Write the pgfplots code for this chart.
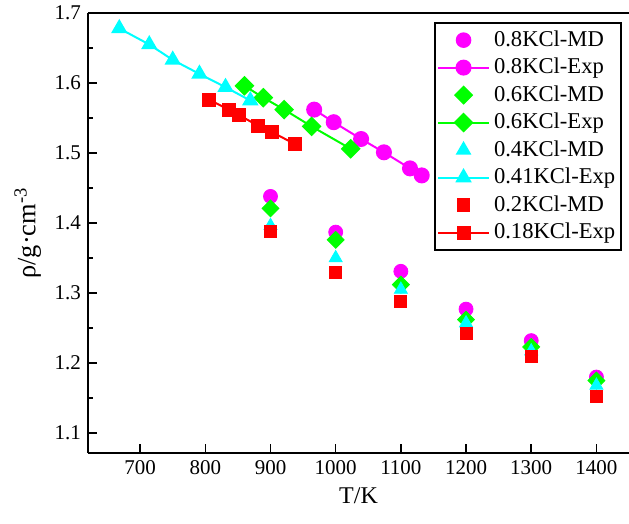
\documentclass[border=0pt]{standalone}
\usepackage{fontspec}
\setmainfont{Liberation Serif}
\usepackage{pgfplots}
\pgfplotsset{compat=1.18}
\definecolor{cmag}{RGB}{255,0,255}
\definecolor{cgreen}{RGB}{0,255,0}
\definecolor{ccyan}{RGB}{0,255,255}
\definecolor{cred}{RGB}{255,0,0}
\begin{document}
\begin{tikzpicture}
\begin{axis}[
  scale only axis, width=270.5pt, height=220pt,
  xmin=620, xmax=1450, ymin=1.0715, ymax=1.7,
  axis x line*=box, axis y line*=left,
  xtick={700,800,...,1400}, ytick={1.1,1.2,...,1.7},
  minor ytick={1.15,1.25,...,1.65},
  xtick pos=bottom, ytick pos=left,
  tick align=inside,
  major tick length=4.5pt, minor tick length=2.5pt,
  every tick/.style={black, line width=0.75pt},
  axis line style={black, line width=1pt},
  yticklabel style={/pgf/number format/.cd, fixed, fixed zerofill, precision=1},
  xticklabel style={/pgf/number format/.cd, set thousands separator={}},
  /pgf/number format/assume math mode=true,
  ticklabel style={font=\fontsize{10.5}{12}\selectfont},
  xlabel={T/K}, ylabel={ρ/g·cm\textsuperscript{-3}},
  xlabel style={font=\fontsize{12}{14}\selectfont},
  ylabel style={font=\fontsize{13.2}{15}\selectfont},
  legend style={at={(1,1)}, anchor=north east, xshift=-3.5pt, yshift=-4.5pt,
    draw=black, line width=0.8pt, font=\fontsize{11.3}{13}\selectfont, row sep=0.4pt,
    inner xsep=1pt},
  legend cell align=left,
  legend image code/.code={\draw[mark repeat=2,mark phase=2,#1] plot coordinates {(0pt,0pt) (12.75pt,0pt) (25.5pt,0pt)};},
]
\addplot[only marks, mark=*, color=cmag, mark size=3.5pt] coordinates {(900,1.438)(1000,1.387)(1100,1.331)(1200,1.277)(1300,1.232)(1400,1.180)};
\addlegendentry{0.8KCl-MD}
\addplot[color=cmag, mark=*, mark size=3.5pt, line width=1pt] coordinates {(967,1.562)(997,1.544)(1039,1.520)(1074,1.501)(1114,1.478)(1132,1.468)};
\addlegendentry{0.8KCl-Exp}
\addplot[only marks, mark=square*, mark options={rotate=45}, color=cgreen, mark size=3pt] coordinates {(900,1.421)(1000,1.376)(1100,1.312)(1200,1.262)(1300,1.223)(1400,1.175)};
\addlegendentry{0.6KCl-MD}
\addplot[color=cgreen, mark=square*, mark options={rotate=45}, mark size=3pt, line width=1pt] coordinates {(860,1.596)(889,1.579)(921,1.562)(963,1.538)(1023,1.506)};
\addlegendentry{0.6KCl-Exp}
\addplot[only marks, mark=triangle*, color=ccyan, mark size=3.75pt] coordinates {(900,1.396)(1000,1.350)(1100,1.305)(1200,1.257)(1300,1.217)(1400,1.168)};
\addlegendentry{0.4KCl-MD}
\addplot[color=ccyan, mark=triangle*, mark size=3.75pt, line width=1pt] coordinates {(668,1.678)(714,1.655)(750,1.633)(791,1.613)(831,1.594)(869,1.575)};
\addlegendentry{0.41KCl-Exp}
\addplot[only marks, mark=square*, color=cred, mark size=3pt] coordinates {(900,1.388)(1000,1.330)(1100,1.288)(1200,1.242)(1300,1.210)(1400,1.152)};
\addlegendentry{0.2KCl-MD}
\addplot[color=cred, mark=square*, mark size=3pt, line width=1pt] coordinates {(806,1.576)(836,1.562)(852,1.554)(881,1.539)(902,1.530)(937,1.513)};
\addlegendentry{0.18KCl-Exp}
\end{axis}
\pgfresetboundingbox
\path ([shift={(-44pt,-35pt)}]current axis.south west) rectangle ([shift={(0pt,6.5pt)}]current axis.north east);
\end{tikzpicture}
\end{document}
